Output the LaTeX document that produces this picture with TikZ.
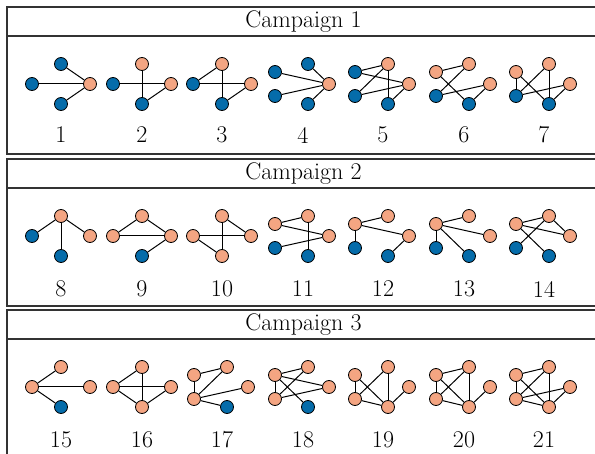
\documentclass[tikz,border=0pt]{standalone}
\usepackage{tikz}
\usepackage{xcolor}

\definecolor{cblu}{RGB}{5,108,170}
\definecolor{cora}{RGB}{244,165,130}

% four nodes: left, top, bottom, right
\newcommand{\fourg}[7]{%
  \node(#1l)[#4] at (#2-29,#3){};
  \node(#1t)[#5] at (#2,#3-20){};
  \node(#1d)[#6] at (#2,#3+20){};
  \node(#1r)[#7] at (#2+29,#3){};}
% five nodes: upper, lower, top, bottom, right
\newcommand{\fiveg}[8]{%
  \node(#1a)[#4] at (#2-28,#3-12){};
  \node(#1b)[#5] at (#2-28,#3+12){};
  \node(#1t)[#6] at (#2+5,#3-20){};
  \node(#1d)[#7] at (#2+5,#3+20){};
  \node(#1r)[#8] at (#2+26,#3){};}
\newcommand{\links}[2]{\foreach \u/\v in {#2} \draw[edge] (#1\u) -- (#1\v);}

\begin{document}
\begin{tikzpicture}[x=1pt,y=-1pt]%
  \tikzstyle{blu}=[circle,draw,fill=cblu,minimum size=13pt,inner sep=0,line width=0.8pt]
  \tikzstyle{ora}=[circle,draw,fill=cora,minimum size=13pt,inner sep=0,line width=0.8pt]
  \tikzstyle{edge}=[line width=1pt]
  \tikzstyle{lab}=[font=\fontsize{24}{28}\selectfont,inner sep=0]
  \tikzstyle{frame}=[line width=1.2pt,draw=black!80]
  \useasboundingbox (0,0) rectangle (595,454);
  \clip (0,0) rectangle (595,454);
  % campaign boxes
  \draw[frame] (7,7) rectangle (600,154);
  \draw[frame] (7,36) -- (600,36);
  \node(c1)[lab] at (303.5,21.5) {Campaign 1};
  \draw[frame] (7,159) rectangle (600,306);
  \draw[frame] (7,188) -- (600,188);
  \node(c2)[lab] at (303.5,173.5) {Campaign 2};
  \draw[frame] (7,310) rectangle (600,470);
  \draw[frame] (7,339) -- (600,339);
  \node(c3)[lab] at (303.5,324.5) {Campaign 3};
  % campaign 1
  \fourg{g1}{61}{84}{blu}{blu}{blu}{ora}
  \links{g1}{l/r,t/r,d/r}
  \fourg{g2}{142}{84}{blu}{ora}{blu}{ora}
  \links{g2}{l/r,t/d,d/r}
  \fourg{g3}{222}{84}{blu}{ora}{blu}{ora}
  \links{g3}{l/t,l/r,t/d,d/r}
  \fiveg{g4}{303}{84}{blu}{blu}{blu}{blu}{ora}
  \links{g4}{a/r,b/r,t/r,d/r}
  \fiveg{g5}{383}{84}{blu}{blu}{ora}{blu}{ora}
  \links{g5}{a/t,a/r,b/t,b/r,t/d,d/r}
  \fiveg{g6}{464}{84}{ora}{blu}{ora}{blu}{ora}
  \links{g6}{a/t,a/d,b/t,b/r,d/r}
  \fiveg{g7}{544}{84}{ora}{blu}{ora}{blu}{ora}
  \links{g7}{a/b,a/d,b/t,b/r,t/d,d/r}
  \foreach \i/\x in {1/61,2/142,3/222,4/303,5/383,6/464,7/544}
    \node(n\i)[lab] at (\x,135) {\i};
  % campaign 2
  \fourg{g8}{61}{236}{blu}{ora}{blu}{ora}
  \links{g8}{l/t,t/d,t/r}
  \fourg{g9}{142}{236}{ora}{ora}{blu}{ora}
  \links{g9}{l/t,l/r,t/r,d/r}
  \fourg{g10}{222}{236}{ora}{ora}{ora}{ora}
  \links{g10}{l/r,l/d,t/d,t/r}
  \fiveg{g11}{303}{236}{ora}{blu}{ora}{blu}{ora}
  \links{g11}{a/t,a/r,b/r,t/d}
  \fiveg{g12}{383}{236}{ora}{blu}{ora}{blu}{ora}
  \links{g12}{a/b,a/t,a/r,d/r}
  \fiveg{g13}{464}{236}{ora}{blu}{ora}{blu}{ora}
  \links{g13}{a/b,a/t,a/r,a/d}
  \fiveg{g14}{544}{236}{ora}{blu}{ora}{blu}{ora}
  \links{g14}{a/t,a/r,a/d,b/t,t/r}
  \foreach \i/\x in {8/61,9/142,10/222,11/303,12/383,13/464,14/544}
    \node(n\i)[lab] at (\x,289) {\i};
  % campaign 3
  \fourg{g15}{61}{387}{ora}{ora}{blu}{ora}
  \links{g15}{l/t,l/r,l/d}
  \fourg{g16}{142}{387}{ora}{ora}{ora}{ora}
  \links{g16}{l/t,l/r,l/d,t/d,d/r}
  \fiveg{g17}{222}{387}{ora}{ora}{ora}{blu}{ora}
  \links{g17}{a/b,a/t,b/t,b/r,b/d}
  \fiveg{g18}{303}{387}{ora}{ora}{ora}{blu}{ora}
  \links{g18}{a/b,a/t,a/r,a/d,b/t,b/r}
  \fiveg{g19}{383}{387}{ora}{ora}{ora}{ora}{ora}
  \links{g19}{a/b,a/d,b/t,b/d,t/d,d/r}
  \fiveg{g20}{464}{387}{ora}{ora}{ora}{ora}{ora}
  \links{g20}{a/b,a/t,a/d,b/t,b/d,t/d,d/r}
  \fiveg{g21}{544}{387}{ora}{ora}{ora}{ora}{ora}
  \links{g21}{a/b,a/t,a/d,b/t,b/r,b/d,t/d,d/r}
  \foreach \i/\x in {15/61,16/142,17/222,18/303,19/383,20/464,21/544}
    \node(n\i)[lab] at (\x,440) {\i};
\end{tikzpicture}
\end{document}
